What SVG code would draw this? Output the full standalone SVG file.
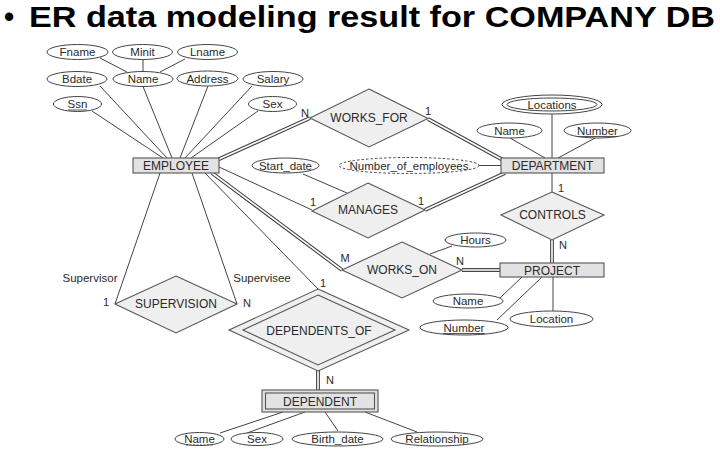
<svg xmlns="http://www.w3.org/2000/svg" width="720" height="452" viewBox="0 0 720 452">
<style>
text{font-family:"Liberation Sans",Arial,Helvetica,sans-serif;fill:#2a2a2a;text-anchor:middle}
.t{font-size:29px;font-weight:bold;fill:#000;text-anchor:start}
.a{font-size:11.5px}
.e{font-size:12px}
.c{font-size:11px}
.att{fill:#fff;stroke:#444;stroke-width:1}
.ent{fill:#e2e2e2;stroke:#555;stroke-width:1.1}
.rel{fill:#efefef;stroke:#555;stroke-width:1.1}
.ln{stroke:#444;stroke-width:1;fill:none}
.d1{stroke:#444;stroke-width:3.8;fill:none}
.d2{stroke:#fff;stroke-width:1.6;fill:none}
.ul{stroke:#444;stroke-width:0.9}
</style>
<rect width="720" height="452" fill="#fff"/>
<g id="title">
<text class="t" x="4" y="27">•</text>
<text class="t" x="29" y="27" textLength="686" lengthAdjust="spacingAndGlyphs">ER data modeling result for COMPANY DB</text>
</g>
<g id="connectors">
<line class="ln" x1="100" y1="58" x2="127" y2="72"/>
<line class="ln" x1="143" y1="60" x2="143" y2="71.5"/>
<line class="ln" x1="185" y1="59" x2="160" y2="72"/>
<line class="ln" x1="92" y1="111" x2="163" y2="158"/>
<line class="ln" x1="100" y1="86" x2="167" y2="158"/>
<line class="ln" x1="143" y1="86.5" x2="172" y2="158"/>
<line class="ln" x1="208" y1="86" x2="180" y2="158"/>
<line class="ln" x1="252" y1="86" x2="185" y2="158"/>
<line class="ln" x1="258" y1="111" x2="191" y2="158"/>
<line class="ln" x1="552" y1="114" x2="552" y2="158"/>
<line class="ln" x1="510" y1="138" x2="545" y2="158"/>
<line class="ln" x1="595" y1="138" x2="558" y2="158"/>
<line class="ln" x1="479" y1="165.5" x2="501" y2="165.5"/>
<line class="ln" x1="303" y1="174" x2="347" y2="193"/>
<line class="ln" x1="219" y1="167" x2="312" y2="210"/>
<line class="ln" x1="552" y1="173" x2="552" y2="192"/>
<line class="ln" x1="430" y1="254" x2="452" y2="246"/>
<line class="ln" x1="500" y1="298" x2="522" y2="277"/>
<line class="ln" x1="497" y1="320" x2="542" y2="277"/>
<line class="ln" x1="553" y1="311" x2="553" y2="277"/>
<line class="ln" x1="160" y1="173" x2="115" y2="304"/>
<line class="ln" x1="192" y1="173" x2="237" y2="304"/>
<line class="ln" x1="205" y1="173" x2="318" y2="289"/>
<line class="ln" x1="220" y1="433" x2="283" y2="412"/>
<line class="ln" x1="247" y1="433" x2="305" y2="412"/>
<line class="ln" x1="338" y1="431" x2="325" y2="412"/>
<line class="ln" x1="417" y1="432" x2="365" y2="412"/>
<g>
<path class="d1" d="M217,160 L310,118 M428,119 L503,160 M425,210 L505,173 M552,240 L552,263 M212,173 L342,270 M462,270 L500,270 M318,370 L318,390"/>
<path class="d2" d="M217,160 L310,118 M428,119 L503,160 M425,210 L505,173 M552,240 L552,263 M212,173 L342,270 M462,270 L500,270 M318,370 L318,390"/>
</g>
</g>
<g id="n-fname"><ellipse class="att" cx="77.5" cy="52" rx="30.5" ry="7.5"/><text class="a" x="77.5" y="56">Fname</text></g>
<g id="n-minit"><ellipse class="att" cx="142.5" cy="52" rx="30" ry="7.5"/><text class="a" x="142.5" y="56">Minit</text></g>
<g id="n-lname"><ellipse class="att" cx="207.5" cy="52" rx="30" ry="7.5"/><text class="a" x="207.5" y="56">Lname</text></g>
<g id="n-bdate"><ellipse class="att" cx="77" cy="79" rx="30" ry="7.5"/><text class="a" x="77" y="83">Bdate</text></g>
<g id="n-name"><ellipse class="att" cx="143" cy="79" rx="30" ry="7.5"/><text class="a" x="143" y="83">Name</text></g>
<g id="n-address"><ellipse class="att" cx="207.5" cy="78.5" rx="30.5" ry="7.5"/><text class="a" x="207.5" y="82.5">Address</text></g>
<g id="n-salary"><ellipse class="att" cx="273" cy="79" rx="30" ry="7.5"/><text class="a" x="273" y="83">Salary</text></g>
<g id="n-ssn"><ellipse class="att" cx="77.5" cy="104" rx="24" ry="7.5"/><text class="a" x="77.5" y="108">Ssn</text><line class="ul" x1="68" y1="110" x2="87" y2="110"/></g>
<g id="n-sex"><ellipse class="att" cx="272.5" cy="104" rx="24" ry="7.5"/><text class="a" x="272.5" y="108">Sex</text></g>
<g id="n-employee"><rect class="ent" x="133" y="158" width="86" height="15"/><text class="e" x="176" y="170">EMPLOYEE</text></g>
<g id="n-works_for"><polygon class="rel" points="369,89 428,118.5 369,147 310,118"/><text class="e" x="369" y="122">WORKS_FOR</text>
<text class="c" x="305" y="117">N</text><text class="c" x="428" y="115">1</text></g>
<g id="n-department"><rect class="ent" x="501" y="158" width="103" height="15"/><text class="e" x="552.5" y="170">DEPARTMENT</text></g>
<g id="n-locations"><ellipse class="att" cx="552" cy="104.5" rx="50" ry="9.5"/><ellipse class="att" cx="552" cy="104.5" rx="45" ry="6.5"/><text class="a" x="552" y="108.5">Locations</text></g>
<g id="n-dname"><ellipse class="att" cx="509.5" cy="130.5" rx="32.5" ry="7.5"/><text class="a" x="509.5" y="134.5">Name</text></g>
<g id="n-dnumber"><ellipse class="att" cx="597.5" cy="130.5" rx="33.5" ry="7.5"/><text class="a" x="597.5" y="134.5">Number</text><line class="ul" x1="577" y1="136.5" x2="618" y2="136.5"/></g>
<g id="n-numemp"><ellipse class="att" cx="409" cy="165.5" rx="70" ry="8" stroke-dasharray="2.5,2"/><text class="a" x="409" y="169.5">Number_of_employees</text></g>
<g id="n-startdate"><ellipse class="att" cx="285.5" cy="165.5" rx="33.5" ry="7.5"/><text class="a" x="285.5" y="169.5">Start_date</text></g>
<g id="n-manages"><polygon class="rel" points="368,183 425,210 368,238 312,211"/><text class="e" x="368" y="214">MANAGES</text>
<text class="c" x="313" y="206">1</text><text class="c" x="421" y="205">1</text></g>
<g id="n-controls"><polygon class="rel" points="552,192 604,215 552,240 501,215"/><text class="e" x="552.5" y="219">CONTROLS</text>
<text class="c" x="561" y="192">1</text><text class="c" x="563" y="249">N</text></g>
<g id="n-project"><rect class="ent" x="500" y="263" width="104" height="14"/><text class="e" x="552" y="274.5">PROJECT</text></g>
<g id="n-hours"><ellipse class="att" cx="475.5" cy="240" rx="30.5" ry="7"/><text class="a" x="475.5" y="244">Hours</text></g>
<g id="n-works_on"><polygon class="rel" points="402,242 462,270 402,298 342,270"/><text class="e" x="402" y="274">WORKS_ON</text>
<text class="c" x="345" y="262">M</text><text class="c" x="460" y="265">N</text></g>
<g id="n-pname"><ellipse class="att" cx="468" cy="301" rx="35" ry="7"/><text class="a" x="468" y="305">Name</text></g>
<g id="n-pnumber"><ellipse class="att" cx="464" cy="327.5" rx="44" ry="7.5"/><text class="a" x="464" y="331.5">Number</text><line class="ul" x1="443" y1="333.5" x2="485" y2="333.5"/></g>
<g id="n-plocation"><ellipse class="att" cx="551.5" cy="319" rx="41.5" ry="8"/><text class="a" x="551.5" y="323">Location</text></g>
<g id="n-supervision"><polygon class="rel" points="176,276 237,304 176,333 115,304"/><text class="e" x="176" y="308">SUPERVISION</text>
<text class="a" x="90" y="282">Supervisor</text><text class="a" x="262" y="282">Supervisee</text>
<text class="c" x="106" y="306">1</text><text class="c" x="247" y="307">N</text></g>
<g id="n-dependents_of"><polygon class="rel" points="318,289 409,330 318,371 229,330"/><polygon class="rel" points="318,295 395,330 318,365 243,330"/><text class="e" x="319" y="335">DEPENDENTS_OF</text>
<text class="c" x="323" y="287">1</text><text class="c" x="330" y="384">N</text></g>
<g id="n-dependent"><rect class="ent" x="262" y="390" width="116" height="22" fill="#f2f2f2"/><rect class="ent" x="265.5" y="393" width="109" height="16"/><text class="e" x="320" y="405.5">DEPENDENT</text></g>
<g id="n-depname"><ellipse class="att" cx="199.5" cy="439" rx="24.5" ry="6.5"/><text class="a" x="199.5" y="443">Name</text><line class="ul" x1="186" y1="445" x2="213" y2="445" stroke-dasharray="2,1.5"/></g>
<g id="n-depsex"><ellipse class="att" cx="257" cy="439" rx="26" ry="6.5"/><text class="a" x="257" y="443">Sex</text></g>
<g id="n-birthdate"><ellipse class="att" cx="337.5" cy="439" rx="45.5" ry="7"/><text class="a" x="337.5" y="443">Birth_date</text></g>
<g id="n-relationship"><ellipse class="att" cx="437" cy="439" rx="46" ry="7"/><text class="a" x="437" y="443">Relationship</text></g>
</svg>
